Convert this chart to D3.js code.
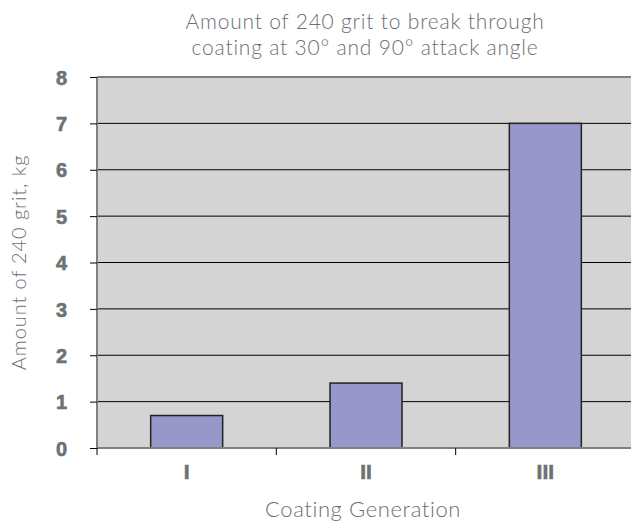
<!DOCTYPE html>
<html><head><meta charset="utf-8">
<script src="https://cdn.jsdelivr.net/npm/d3@7"></script>
<style>
body{margin:0;background:#fff;}
svg{display:block;}
.lt{font-family:Lato,"Open Sans",sans-serif;font-weight:300;fill:#6b6f72;}
.bd{font-family:"Liberation Sans",Arial,sans-serif;font-weight:bold;fill:#6d7275;stroke:#6d7275;stroke-width:0.6px;}
</style></head>
<body>
<svg id="c" width="631" height="526"></svg>
<script>
const categories = ["I", "II", "III"];
const values = [0.7, 1.4, 7.0];
const yTicks = [0,1,2,3,4,5,6,7,8];
const titleLines = ["Amount of 240 grit to break through", "coating at 30\u00b0 and 90\u00b0 attack angle"];
const xTitle = "Coating Generation";
const yTitle = "Amount of 240 grit, kg";

const svg = d3.select("#c");
const m = {left:97, right:635, top:77, bottom:448};
const x = d3.scaleBand().domain(categories).range([m.left, m.right]).paddingInner(0).paddingOuter(0);
const y = d3.scaleLinear().domain([0,8]).range([m.bottom, m.top]);

// plot background
svg.append("rect").attr("x", m.left).attr("y", m.top).attr("width", m.right-m.left).attr("height", m.bottom-m.top)
  .attr("fill", "#d4d4d4");

// gridlines
svg.append("g").selectAll("line").data(yTicks.filter(d=>d>0 && d<8)).join("line")
  .attr("x1", m.left).attr("x2", m.right).attr("y1", d=>y(d)).attr("y2", d=>y(d))
  .attr("stroke", "#000").attr("stroke-width", 1);

// bars
const bw = 72;
svg.append("g").selectAll("rect").data(values).join("rect")
  .attr("x", (d,i)=> x(categories[i]) + x.bandwidth()/2 - bw/2)
  .attr("y", d=>y(d)).attr("width", bw).attr("height", d=>y(0)-y(d))
  .attr("fill", "#9797c9").attr("stroke", "#222").attr("stroke-width", 1.5);

// borders
svg.append("line").attr("x1", m.left).attr("x2", m.right).attr("y1", m.top).attr("y2", m.top).attr("stroke","#808080").attr("stroke-width",2);
svg.append("line").attr("x1", m.left).attr("x2", m.left).attr("y1", m.top).attr("y2", m.bottom).attr("stroke","#808080").attr("stroke-width",2);
svg.append("line").attr("x1", m.left).attr("x2", m.right).attr("y1", m.bottom).attr("y2", m.bottom).attr("stroke","#808080").attr("stroke-width",2);

// y axis
const yAxis = d3.axisLeft(y).tickValues(yTicks).tickSize(7).tickPadding(23).tickFormat(d3.format("d"));
const gy = svg.append("g").attr("transform", `translate(${m.left},0)`).call(yAxis);
gy.select(".domain").remove();
gy.selectAll(".tick line").attr("stroke","#000").attr("x2",-7).attr("x1",0);
gy.selectAll(".tick text").attr("class","bd").attr("font-size",20).attr("dy","0.36em");

// x axis
const gx = svg.append("g").attr("transform", `translate(0,${m.bottom})`);
const bounds = [m.left, ...categories.map(c=>x(c)+x.bandwidth())];
gx.selectAll("line").data(bounds).join("line")
  .attr("x1", d=>d).attr("x2", d=>d).attr("y1", 0).attr("y2", 7).attr("stroke","#000");
gx.selectAll("text").data(categories).join("text")
  .attr("class","bd").attr("font-size",21).attr("text-anchor","middle")
  .attr("x", d=>x(d)+x.bandwidth()/2).attr("y", 31).text(d=>d);

// titles
svg.append("g").selectAll("text").data(titleLines).join("text")
  .attr("class","lt").attr("font-size",21).attr("letter-spacing","0.8px").attr("text-anchor","middle")
  .attr("x", 365).attr("y", (d,i)=>29+i*26).text(d=>d);
svg.append("text").attr("class","lt").attr("font-size",22).attr("letter-spacing","0.6px").attr("text-anchor","middle")
  .attr("x", 363).attr("y", 517).text(xTitle);
svg.append("text").attr("class","lt").attr("font-size",20).attr("letter-spacing","0.9px").attr("text-anchor","middle")
  .attr("transform", `translate(26,${(m.top+m.bottom)/2}) rotate(-90)`).text(yTitle);
</script>
</body></html>
